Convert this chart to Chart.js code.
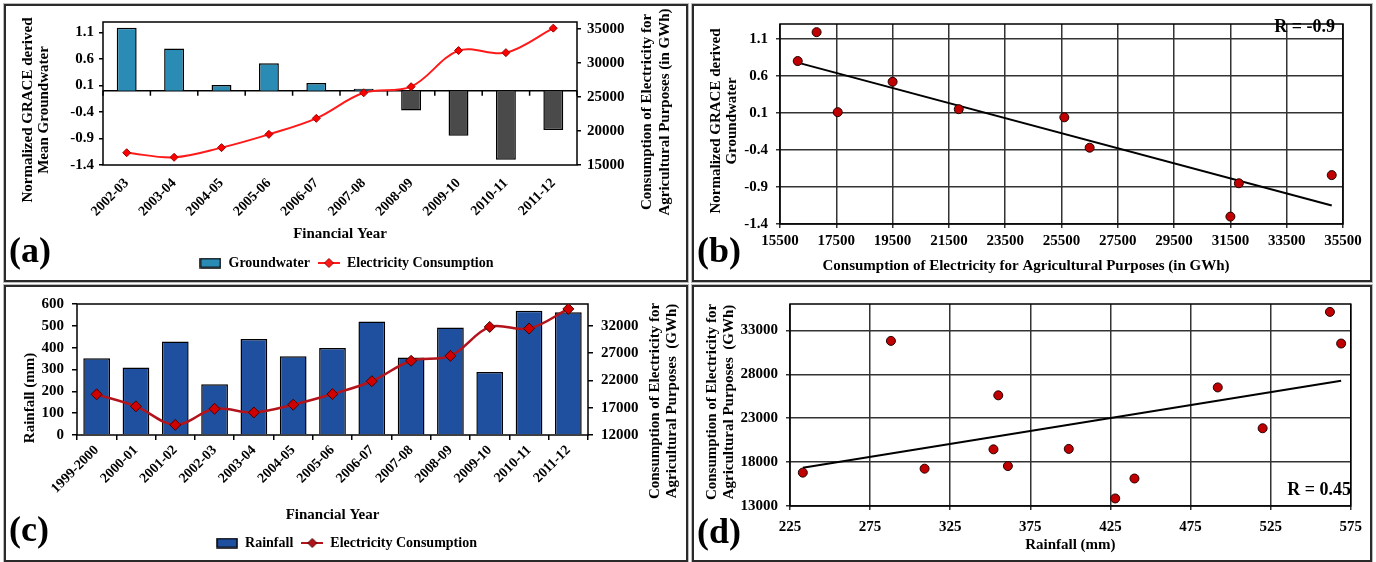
<!DOCTYPE html>
<html>
<head>
<meta charset="utf-8">
<script src="https://cdn.jsdelivr.net/npm/chart.js@4.4.1/dist/chart.umd.min.js"></script>
<style>
  body { margin: 0; background: #fff; width: 1376px; height: 562px; position: relative; overflow: hidden; }
  .panel { position: absolute; box-sizing: border-box; border: 2px solid #2a2a2a; box-shadow: 0 0 0 1px #bbb; }
  canvas { position: absolute; }
  .tag { position: absolute; font: bold 36px "Liberation Serif", "Times New Roman", serif; color: #000; line-height: 1; }
</style>
</head>
<body>
<div class="panel" style="left:4px;top:4px;width:684px;height:278px"></div>
<div class="panel" style="left:692px;top:4px;width:680px;height:278px"></div>
<div class="panel" style="left:4px;top:285px;width:684px;height:277px"></div>
<div class="panel" style="left:692px;top:285px;width:680px;height:277px"></div>

<canvas id="chartA" width="679" height="273" style="left:7px;top:7px"></canvas>
<canvas id="chartB" width="675" height="273" style="left:695px;top:7px"></canvas>
<canvas id="chartC" width="679" height="273" style="left:7px;top:287px"></canvas>
<canvas id="chartD" width="675" height="273" style="left:695px;top:287px"></canvas>

<div class="tag" style="left:9px;top:232px">(a)</div>
<div class="tag" style="left:697px;top:232px">(b)</div>
<div class="tag" style="left:9px;top:511px">(c)</div>
<div class="tag" style="left:697px;top:513px">(d)</div>

<script>
// financial years and series
var years = ['1999-2000', '2000-01', '2001-02', '2002-03', '2003-04', '2004-05', '2005-06',
    '2006-07', '2007-08', '2008-09', '2009-10', '2010-11', '2011-12'];
var rainfall = [352, 309, 428, 233, 440, 361, 399, 520, 355, 492, 288, 569, 562];
var electricity = [19450, 17250, 13860, 16800, 16130, 17550, 19500, 21850, 25600, 26500, 31800, 31500, 35100];

var graceYears = ['2002-03', '2003-04', '2004-05', '2005-06', '2006-07', '2007-08', '2008-09', '2009-10', '2010-11', '2011-12'];
var groundwater = [1.19, 0.80, 0.11, 0.52, 0.15, 0.04, -0.37, -0.85, -1.30, -0.74];

// tick labels
var gwTicks = [-1.4, -0.9, -0.4, 0.1, 0.6, 1.1];
var elecTicksA = [15000, 20000, 25000, 30000, 35000];
var rainTicksC = [0, 100, 200, 300, 400, 500, 600];
var elecTicksC = [12000, 17000, 22000, 27000, 32000];
var elecTicksB = [15500, 17500, 19500, 21500, 23500, 25500, 27500, 29500, 31500, 33500, 35500];
var rainTicksD = [225, 275, 325, 375, 425, 475, 525, 575];
var elecTicksD = [13000, 18000, 23000, 28000, 33000];

var FONT = '"Liberation Serif", "Times New Roman", serif';
Chart.defaults.font.family = FONT;
Chart.defaults.font.weight = 'bold';
Chart.defaults.font.size = 15;
Chart.defaults.color = '#000';
Chart.defaults.animation = false;

function fixedTicks(list) {
    return function (scale) {
        scale.ticks = list.map(function (v) { return { value: v }; });
    };
}
function fixWidth(w) { return function (scale) { scale.width = w; }; }
function fixHeight(h) { return function (scale) { scale.height = h; }; }

// least squares line over the points, from min x to max x
function trend(points) {
    var n = points.length, sx = 0, sy = 0, sxx = 0, sxy = 0;
    points.forEach(function (p) { sx += p.x; sy += p.y; sxx += p.x * p.x; sxy += p.x * p.y; });
    var slope = (n * sxy - sx * sy) / (n * sxx - sx * sx);
    var icpt = (sy - slope * sx) / n;
    var xs = points.map(function (p) { return p.x; });
    var x0 = Math.min.apply(null, xs), x1 = Math.max.apply(null, xs);
    return [{ x: x0, y: icpt + slope * x0 }, { x: x1, y: icpt + slope * x1 }];
}

// frame round the plot area, and the zero line of panel (a)
var framePlugin = {
    id: 'frame',
    beforeDatasetsDraw: function (chart, args, opts) {
        var a = chart.chartArea, ctx = chart.ctx;
        ctx.save();
        ctx.strokeStyle = '#000';
        ctx.lineWidth = 1.5;
        ctx.strokeRect(a.left, a.top, a.right - a.left, a.bottom - a.top);
        if (opts.zeroLine) {
            var y0 = chart.scales.y.getPixelForValue(0);
            ctx.beginPath();
            ctx.moveTo(a.left, y0);
            ctx.lineTo(a.right, y0);
            var xs = chart.scales.x, n = xs.ticks.length, w = xs.width / n;
            for (var i = 0; i <= n; i++) {
                ctx.moveTo(xs.left + i * w, y0);
                ctx.lineTo(xs.left + i * w, y0 + 5);
            }
            ctx.stroke();
        }
        ctx.restore();
    }
};

// axis titles and R labels
var textPlugin = {
    id: 'texts',
    afterDatasetsDraw: function (chart, args, opts) {
        var ctx = chart.ctx;
        (opts.items || []).forEach(function (t) {
            ctx.save();
            ctx.font = 'bold ' + (t.size || 15) + 'px ' + FONT;
            ctx.fillStyle = '#000';
            ctx.textAlign = t.align || 'center';
            ctx.textBaseline = 'middle';
            ctx.translate(t.x, t.y);
            if (t.rot) ctx.rotate(t.rot * Math.PI / 180);
            ctx.fillText(t.text, 0, 0);
            ctx.restore();
        });
    }
};

function swatch(kind, fill, stroke) {
    var c = document.createElement('canvas');
    var g = c.getContext('2d');
    if (kind === 'box') {
        c.width = 22; c.height = 11;
        g.fillStyle = fill;
        g.fillRect(1, 1, 20, 9);
        g.strokeStyle = '#000';
        g.lineWidth = 1.5;
        g.strokeRect(1, 1, 20, 9);
    } else {
        c.width = 22; c.height = 12;
        g.strokeStyle = fill;
        g.lineWidth = 2;
        g.beginPath(); g.moveTo(0, 6); g.lineTo(22, 6); g.stroke();
        g.fillStyle = fill;
        g.strokeStyle = stroke;
        g.lineWidth = 1;
        g.beginPath(); g.moveTo(11, 1.5); g.lineTo(15.5, 6); g.lineTo(11, 10.5); g.lineTo(6.5, 6); g.closePath();
        g.fill(); g.stroke();
    }
    return c;
}

function legendOpts(items) {
    return {
        position: 'bottom',
        labels: {
            usePointStyle: true,
            pointStyleWidth: 22,
            padding: 8,
            font: { size: 14, weight: 'bold' },
            generateLabels: function () {
                return items.map(function (it, i) {
                    return { text: it.text, pointStyle: it.style, datasetIndex: i, hidden: false,
                        lineWidth: 0, fillStyle: 'transparent', strokeStyle: 'transparent', fontColor: '#000' };
                });
            }
        }
    };
}

var elecFmt = function (v) { return String(v); };

// (a) groundwater bars + electricity line
var elecA = graceYears.map(function (y) { return electricity[years.indexOf(y)]; });
new Chart(document.getElementById('chartA'), {
    type: 'bar',
    data: {
        labels: graceYears,
        datasets: [{
            type: 'bar',
            label: 'Groundwater',
            data: groundwater,
            backgroundColor: groundwater.map(function (v) { return v >= 0 ? '#2a8cb4' : '#4a4a4a'; }),
            borderColor: '#000',
            borderWidth: 1.5,
            categoryPercentage: 1,
            barPercentage: 0.42,
            yAxisID: 'y',
            order: 2
        }, {
            type: 'line',
            label: 'Electricity Consumption',
            data: elecA,
            borderColor: '#ff1a1a',
            borderWidth: 2,
            tension: 0.35,
            pointStyle: 'rectRot',
            pointRadius: 4,
            pointBackgroundColor: '#ff0000',
            pointBorderColor: '#990000',
            pointBorderWidth: 1,
            yAxisID: 'y2',
            order: 1
        }]
    },
    options: {
        responsive: false,
        layout: { padding: { top: 11, left: 0, right: 0, bottom: 0 } },
        scales: {
            x: {
                grid: { display: false },
                border: { display: false },
                ticks: { minRotation: 45, maxRotation: 45, autoSkip: false, padding: 2, font: { size: 14 } },
                title: { display: true, text: 'Financial Year', padding: { top: 0, bottom: 5 } },
                afterFit: fixHeight(83)
            },
            y: {
                min: -1.4, max: 1.3,
                afterBuildTicks: fixedTicks(gwTicks),
                grid: { drawOnChartArea: false, tickLength: 4, color: '#000', lineWidth: 1.5 },
                border: { display: false },
                ticks: { padding: 5, callback: function (v) { return v.toFixed(1); } },
                afterFit: fixWidth(96)
            },
            y2: {
                position: 'right',
                min: 15000, max: 36000,
                afterBuildTicks: fixedTicks(elecTicksA),
                grid: { drawOnChartArea: false, tickLength: 4, color: '#000', lineWidth: 1.5 },
                border: { display: false },
                ticks: { padding: 6, callback: elecFmt },
                afterFit: fixWidth(109)
            }
        },
        plugins: {
            legend: legendOpts([
                { text: 'Groundwater', style: swatch('box', '#2a8cb4') },
                { text: 'Electricity Consumption', style: swatch('line', '#ff1a1a', '#990000') }
            ]),
            tooltip: { enabled: false },
            frame: { zeroLine: true },
            texts: { items: [
                { text: 'Normalized GRACE derived', x: 21, y: 103, rot: -90 },
                { text: 'Mean Groundwater', x: 37, y: 103, rot: -90 },
                { text: 'Consumption of Electricity for', x: 640, y: 105, rot: -90 },
                { text: 'Agricultural Purposes (in GWh)', x: 658, y: 105, rot: -90 }
            ] }
        }
    },
    plugins: [framePlugin, textPlugin]
});

// (b) groundwater against electricity
var ptsB = graceYears.map(function (y, i) { return { x: electricity[years.indexOf(y)], y: groundwater[i] }; });
new Chart(document.getElementById('chartB'), {
    type: 'scatter',
    data: {
        datasets: [{
            data: ptsB,
            pointRadius: 4.5,
            pointBackgroundColor: '#c00000',
            pointBorderColor: '#220000',
            pointBorderWidth: 1,
            order: 1
        }, {
            type: 'line',
            data: trend(ptsB),
            borderColor: '#000',
            borderWidth: 2,
            pointRadius: 0,
            order: 2
        }]
    },
    options: {
        responsive: false,
        layout: { padding: { top: 11, left: 0, right: 27, bottom: 0 } },
        scales: {
            x: {
                min: 15500, max: 35500,
                afterBuildTicks: fixedTicks(elecTicksB),
                grid: { color: '#333', lineWidth: 1.5, tickLength: 4 },
                border: { display: false },
                ticks: { maxRotation: 0, autoSkip: false, padding: 4, callback: elecFmt },
                afterFit: fixHeight(56)
            },
            y: {
                min: -1.4, max: 1.3,
                afterBuildTicks: fixedTicks(gwTicks),
                grid: { color: '#333', lineWidth: 1.5, tickLength: 4 },
                border: { display: false },
                ticks: { padding: 8, callback: function (v) { return v.toFixed(1); } },
                afterFit: fixWidth(85)
            }
        },
        plugins: {
            legend: { display: false },
            tooltip: { enabled: false },
            frame: {},
            texts: { items: [
                { text: 'Normalized GRACE derived', x: 21, y: 114, rot: -90 },
                { text: 'Groundwater', x: 37, y: 114, rot: -90 },
                { text: 'Consumption of Electricity for Agricultural Purposes (in GWh)', x: 331, y: 259 },
                { text: 'R = -0.9', x: 640, y: 20, align: 'right', size: 18 }
            ] }
        }
    },
    plugins: [framePlugin, textPlugin]
});

// (c) rainfall bars + electricity line
new Chart(document.getElementById('chartC'), {
    type: 'bar',
    data: {
        labels: years,
        datasets: [{
            type: 'bar',
            label: 'Rainfall',
            data: rainfall,
            backgroundColor: '#1f4f9f',
            borderColor: '#000',
            borderWidth: 1.5,
            categoryPercentage: 1,
            barPercentage: 0.68,
            yAxisID: 'y',
            order: 2
        }, {
            type: 'line',
            label: 'Electricity Consumption',
            data: electricity,
            borderColor: '#b3141c',
            borderWidth: 2.5,
            tension: 0.35,
            pointStyle: 'rectRot',
            pointRadius: 5.5,
            pointBackgroundColor: '#d00000',
            pointBorderColor: '#4a0000',
            pointBorderWidth: 1,
            yAxisID: 'y2',
            order: 1
        }]
    },
    options: {
        responsive: false,
        layout: { padding: { top: 12, left: 0, right: 0, bottom: 0 } },
        scales: {
            x: {
                grid: { drawOnChartArea: false, tickLength: 5, color: '#000', lineWidth: 1.5, offset: true },
                border: { display: false },
                ticks: { minRotation: 45, maxRotation: 45, autoSkip: false, padding: 2, font: { size: 14 } },
                title: { display: true, text: 'Financial Year', padding: { top: 0, bottom: 4 } },
                afterFit: fixHeight(93)
            },
            y: {
                min: 0, max: 600,
                afterBuildTicks: fixedTicks(rainTicksC),
                grid: { drawOnChartArea: false, tickLength: 5, color: '#000', lineWidth: 1.5 },
                border: { display: false },
                ticks: { padding: 8 },
                afterFit: fixWidth(70)
            },
            y2: {
                position: 'right',
                min: 12000, max: 36000,
                afterBuildTicks: fixedTicks(elecTicksC),
                grid: { drawOnChartArea: false, tickLength: 5, color: '#000', lineWidth: 1.5 },
                border: { display: false },
                ticks: { padding: 8, callback: elecFmt },
                afterFit: fixWidth(98)
            }
        },
        plugins: {
            legend: legendOpts([
                { text: 'Rainfall', style: swatch('box', '#1f4f9f') },
                { text: 'Electricity Consumption', style: swatch('line', '#b3141c', '#4a0000') }
            ]),
            tooltip: { enabled: false },
            frame: {},
            texts: { items: [
                { text: 'Rainfall (mm)', x: 23, y: 111, rot: -90 },
                { text: 'Consumption of Electricity for', x: 648, y: 114, rot: -90 },
                { text: 'Agricultural Purposes  (GWh)', x: 665, y: 114, rot: -90 }
            ] }
        }
    },
    plugins: [framePlugin, textPlugin]
});

// (d) electricity against rainfall
var ptsD = years.map(function (y, i) { return { x: rainfall[i], y: electricity[i] }; });
new Chart(document.getElementById('chartD'), {
    type: 'scatter',
    data: {
        datasets: [{
            data: ptsD,
            pointRadius: 4.5,
            pointBackgroundColor: '#c00000',
            pointBorderColor: '#220000',
            pointBorderWidth: 1,
            order: 1
        }, {
            type: 'line',
            data: trend(ptsD),
            borderColor: '#000',
            borderWidth: 2,
            pointRadius: 0,
            order: 2
        }]
    },
    options: {
        responsive: false,
        layout: { padding: { top: 12, left: 0, right: 18, bottom: 0 } },
        scales: {
            x: {
                min: 225, max: 575,
                afterBuildTicks: fixedTicks(rainTicksD),
                grid: { color: '#333', lineWidth: 1.5, tickLength: 4 },
                border: { display: false },
                ticks: { maxRotation: 0, autoSkip: false, padding: 8 },
                title: { display: true, text: 'Rainfall (mm)', padding: { top: 0, bottom: 6 } },
                afterFit: fixHeight(54)
            },
            y: {
                min: 13000, max: 36000,
                afterBuildTicks: fixedTicks(elecTicksD),
                grid: { color: '#333', lineWidth: 1.5, tickLength: 4 },
                border: { display: false },
                ticks: { padding: 8, callback: elecFmt },
                afterFit: fixWidth(95)
            }
        },
        plugins: {
            legend: { display: false },
            tooltip: { enabled: false },
            frame: {},
            texts: { items: [
                { text: 'Consumption of Electricity for', x: 17, y: 115, rot: -90 },
                { text: 'Agricultural Purposes  (GWh)', x: 34, y: 115, rot: -90 },
                { text: 'R = 0.45', x: 656, y: 203, align: 'right', size: 18 }
            ] }
        }
    },
    plugins: [framePlugin, textPlugin]
});
</script>
</body>
</html>
